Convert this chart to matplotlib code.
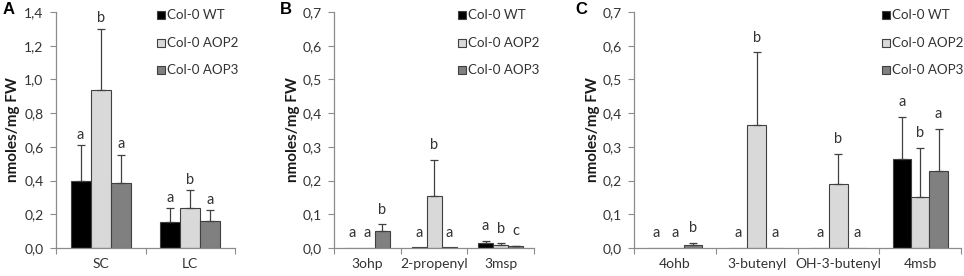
import matplotlib.pyplot as plt
import numpy as np
from matplotlib.patches import Rectangle
from matplotlib.ticker import FuncFormatter, FixedLocator

plt.rcParams['font.family'] = ['Lato', 'DejaVu Sans']

series = ['Col-0 WT', 'Col-0 AOP2', 'Col-0 AOP3']
colors = ['#000000', '#d9d9d9', '#808080']

# panel A
a_cats = ['SC', 'LC']
a_vals = [[0.40, 0.152], [0.936, 0.235], [0.383, 0.158]]
a_errs = [[0.21, 0.083], [0.364, 0.109], [0.17, 0.065]]
a_letters = [['a', 'a'], ['b', 'b'], ['a', 'a']]

# panel B
b_cats = ['3ohp', '2-propenyl', '3msp']
b_vals = [[0.0, 0.002, 0.015], [0.0, 0.155, 0.008], [0.051, 0.002, 0.005]]
b_errs = [[0.0, 0.0, 0.007], [0.0, 0.107, 0.006], [0.019, 0.0, 0.002]]
b_letters = [['a', 'a', 'a'], ['a', 'b', 'b'], ['b', 'a', 'c']]

# panel C
c_cats = ['4ohb', '3-butenyl', 'OH-3-butenyl', '4msb']
c_vals = [[0.0, 0.0, 0.0, 0.263], [0.0, 0.365, 0.189, 0.152], [0.01, 0.0, 0.0, 0.229]]
c_errs = [[0.0, 0.0, 0.0, 0.127], [0.0, 0.215, 0.09, 0.146], [0.005, 0.0, 0.0, 0.124]]
c_letters = [['a', 'a', 'a', 'a'], ['a', 'b', 'b', 'b'], ['b', 'a', 'a', 'a']]

W, H = 964, 276
fig = plt.figure(figsize=(W / 100, H / 100), dpi=100)

txt = '#333333'
spine = '#8c8c8c'
edge = '#404040'
comma = FuncFormatter(lambda v, p: f'{v:.1f}'.replace('.', ','))


def legend(x0, rows):
    # hand-made legend, in figure pixels
    for k, yc in enumerate(rows):
        fig.patches.append(Rectangle((x0 / W, 1 - (yc + 4) / H), 8 / W, 8 / H,
                                     transform=fig.transFigure, facecolor=colors[k],
                                     edgecolor=edge, linewidth=0.8))
        fig.text((x0 + 10) / W, 1 - yc / H, series[k], fontsize=9.6, color=txt,
                 ha='left', va='center')


def panel(rect, cats, vals, errs, letters, ymax, step, off, leg_x, tag, tag_xy, lab_x):
    ax = fig.add_axes([rect[0] / W, 1 - (rect[1] + rect[3]) / H, rect[2] / W, rect[3] / H])
    n = len(cats)
    x = np.arange(n)
    bw = 0.225
    for i in range(3):
        pos = x + (i - 1) * bw
        v = np.array(vals[i])
        e = np.array(errs[i])
        ax.bar(pos, v, bw, color=colors[i], edgecolor=edge, linewidth=0.8, zorder=2)
        m = e > 0
        ax.errorbar(pos[m], v[m], yerr=[np.zeros(m.sum()), e[m]], fmt='none',
                    ecolor=edge, elinewidth=0.9, capsize=2.6, capthick=0.9, zorder=3)
        for j in range(n):
            ax.annotate(letters[i][j], (pos[j], v[j] + e[j]), xytext=(0, off),
                        textcoords='offset points', ha='center', va='center',
                        fontsize=10.5, color=txt)
    ax.set_xlim(-0.5, n - 0.5)
    ax.set_ylim(0, ymax)
    ax.set_yticks(np.arange(0, ymax + step / 2, step))
    ax.yaxis.set_major_formatter(comma)
    ax.xaxis.set_major_locator(FixedLocator(np.arange(n + 1) - 0.5))
    ax.xaxis.set_minor_locator(FixedLocator(x))
    ax.set_xticklabels([], minor=False)
    ax.set_xticklabels(cats, minor=True)
    ax.tick_params(axis='x', which='major', length=4, color=spine, direction='out')
    ax.tick_params(axis='x', which='minor', length=0, pad=7, labelsize=10, labelcolor=txt)
    ax.tick_params(axis='y', length=4, color=spine, direction='out', labelsize=10,
                   labelcolor=txt, pad=5)
    for s in ['top', 'right']:
        ax.spines[s].set_visible(False)
    for s in ['left', 'bottom']:
        ax.spines[s].set_color(spine)
        ax.spines[s].set_linewidth(0.9)
    legend(leg_x, [15, 43, 70])
    fig.text(tag_xy[0] / W, 1 - tag_xy[1] / H, tag, fontsize=12, fontweight='bold',
             family='Liberation Sans', ha='center', va='center')
    fig.text(lab_x / W, 1 - (rect[1] + rect[3] / 2) / H, 'nmoles/mg FW', rotation=90,
             fontsize=11, fontweight='bold', ha='center', va='center', color='#1a1a1a')
    return ax


panel((56, 12, 179, 236), a_cats, a_vals, a_errs, a_letters, 1.4, 0.2, 7.5,
      157, 'A', (9, 10), 13)
panel((334, 12, 200, 236), b_cats, b_vals, b_errs, b_letters, 0.7, 0.1, 10.5,
      458, 'B', (286, 10), 293)
panel((634, 12, 327, 236), c_cats, c_vals, c_errs, c_letters, 0.7, 0.1, 10.5,
      882, 'C', (581, 10), 593)

fig.savefig('out.png', dpi=100)
